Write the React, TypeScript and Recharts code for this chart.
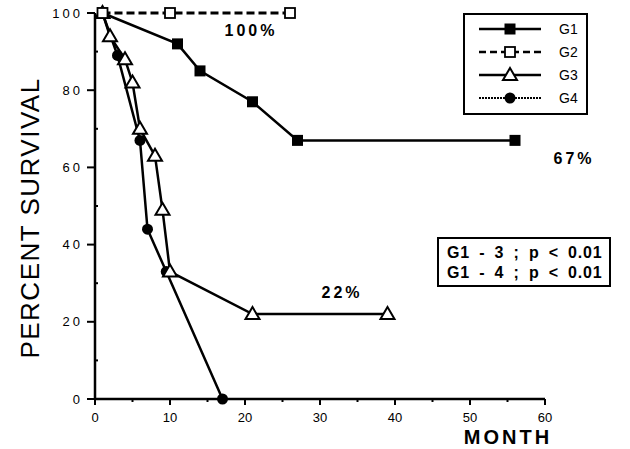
import { LineChart, Line, XAxis, YAxis } from 'recharts';

// survival curves (month, percent)
const g1Months = [1, 11, 14, 21, 27, 56];
const g1Survival = [100, 92, 85, 77, 67, 67];
const g2Months = [1, 10, 26];
const g2Survival = [100, 100, 100];
const g3Months = [1, 2, 4, 5, 6, 8, 9, 10, 21, 39];
const g3Survival = [100, 94, 88, 82, 70, 63, 49, 33, 22, 22];
const g4Months = [1, 3, 6, 7, 9.5, 17];
const g4Survival = [100, 89, 67, 44, 33, 0];

const xTicks = [0, 5, 10, 15, 20, 25, 30, 35, 40, 45, 50, 55, 60];
const yTicks = [0, 10, 20, 30, 40, 50, 60, 70, 80, 90, 100];
const legendLabels = ['G1', 'G2', 'G3', 'G4'];
const statLines = ['G1 - 3 ; p < 0.01', 'G1 - 4 ; p < 0.01'];
const notes = [
  { text: '100%', left: 251, top: 31 },
  { text: '67%', left: 574, top: 159 },
  { text: '22%', left: 342, top: 293 },
];

const toPoints = (xs: number[], ys: number[]) => xs.map((x, i) => ({ x, y: ys[i] }));
const g1 = toPoints(g1Months, g1Survival);
const g2 = toPoints(g2Months, g2Survival);
const g3 = toPoints(g3Months, g3Survival);
const g4 = toPoints(g4Months, g4Survival);

const SANS = 'Arial, "Liberation Sans", Helvetica, sans-serif';

const FilledSquare = ({ cx, cy }: any) => <rect x={cx - 5.5} y={cy - 5.5} width={11} height={11} fill="#000" />;
const OpenSquare = ({ cx, cy }: any) => (
  <rect x={cx - 5} y={cy - 5} width={10} height={10} fill="#fff" stroke="#000" strokeWidth={1.8} />
);
const OpenTriangle = ({ cx, cy }: any) => (
  <polygon points={`${cx},${cy - 7} ${cx + 7},${cy + 5} ${cx - 7},${cy + 5}`} fill="#fff" stroke="#000" strokeWidth={2} />
);
const FilledCircle = ({ cx, cy }: any) => <circle cx={cx} cy={cy} r={5.5} fill="#000" />;

const markers = [FilledSquare, OpenSquare, OpenTriangle, FilledCircle];
const legendDash = [undefined, '7 4', undefined, '2 1'];

const dotOf = (Shape: any) => (p: any) => <Shape key={`d-${p.index}`} cx={p.cx} cy={p.cy} />;

const XTick = ({ x, y, payload }: any) => {
  const major = payload.value % 10 === 0;
  return (
    <g>
      <line x1={x} x2={x} y1={y - (payload.value === 0 ? 4 : 0)} y2={y + (major ? 6 : 3)} stroke="#000" strokeWidth={2} />
      {major && (
        <text x={x} y={y + 23} textAnchor="middle" fontFamily={SANS} fontSize={13} fill="#000">
          {payload.value}
        </text>
      )}
    </g>
  );
};

const YTick = ({ x, y, payload }: any) => {
  const major = payload.value % 20 === 0;
  return (
    <g>
      {major ? (
        <line x1={x - 8} x2={x} y1={y} y2={y} stroke="#000" strokeWidth={2} />
      ) : (
        <line x1={x} x2={x + 3} y1={y} y2={y} stroke="#000" strokeWidth={2} />
      )}
      {major && (
        <text x={x - 12} y={y} dy="0.35em" textAnchor="end" fontFamily={SANS} fontSize={13} letterSpacing={3} fill="#000">
          {payload.value}
        </text>
      )}
    </g>
  );
};

export default function App() {
  return (
    <div style={{ position: 'absolute', left: 0, top: 0, width: 630, height: 449, background: '#fff' }}>
      <LineChart width={630} height={449} margin={{ top: 13, right: 85, bottom: 20, left: 65 }}>
        <XAxis
          dataKey="x"
          type="number"
          domain={[0, 60]}
          ticks={xTicks}
          interval={0}
          height={30}
          tickLine={false}
          tickSize={0}
          tickMargin={0}
          axisLine={{ stroke: '#000', strokeWidth: 2.5 }}
          tick={<XTick />}
        />
        <YAxis
          dataKey="y"
          type="number"
          domain={[0, 100]}
          ticks={yTicks}
          interval={0}
          width={30}
          tickLine={false}
          tickSize={0}
          tickMargin={0}
          axisLine={{ stroke: '#000', strokeWidth: 2.5 }}
          tick={<YTick />}
        />
        <Line data={g4} dataKey="y" stroke="#000" strokeWidth={2.5} dot={dotOf(FilledCircle)} isAnimationActive={false} />
        <Line data={g3} dataKey="y" stroke="#000" strokeWidth={2.5} dot={dotOf(OpenTriangle)} isAnimationActive={false} />
        <Line data={g1} dataKey="y" stroke="#000" strokeWidth={2.5} dot={dotOf(FilledSquare)} isAnimationActive={false} />
        <Line data={g2} dataKey="y" stroke="#000" strokeWidth={3} strokeDasharray="8 4" dot={dotOf(OpenSquare)} isAnimationActive={false} />
      </LineChart>

      <div
        style={{
          position: 'absolute', left: 30, top: 218, transform: 'translate(-50%, -50%) rotate(-90deg)',
          fontFamily: SANS, fontSize: 26, letterSpacing: 1.5, whiteSpace: 'nowrap',
        }}
      >
        PERCENT SURVIVAL
      </div>
      <div
        style={{
          position: 'absolute', left: 508, top: 437, transform: 'translate(-50%, -50%)',
          fontFamily: SANS, fontSize: 20, fontWeight: 'bold', letterSpacing: 3,
        }}
      >
        MONTH
      </div>

      {notes.map(n => (
        <div
          key={n.text}
          style={{
            position: 'absolute', left: n.left, top: n.top, transform: 'translate(-50%, -50%)',
            fontFamily: SANS, fontSize: 16, fontWeight: 'bold', letterSpacing: 3,
          }}
        >
          {n.text}
        </div>
      ))}

      <div style={{ position: 'absolute', left: 463, top: 13, width: 121, height: 98, border: '2px solid #000' }}>
        <svg width={121} height={98}>
          {legendLabels.map((label, i) => {
            const y = 14 + i * 23;
            const Shape = markers[i];
            return (
              <g key={label}>
                <line x1={14} x2={76} y1={y} y2={y} stroke="#000" strokeWidth={i === 3 ? 2 : 2.5} strokeDasharray={legendDash[i]} />
                <Shape cx={45} cy={y} />
                <text x={94} y={y} dy="0.35em" fontFamily='"Liberation Sans Narrow", "Arial Narrow", Arial, sans-serif' fontSize={14}>
                  {label}
                </text>
              </g>
            );
          })}
        </svg>
      </div>

      <div
        style={{
          position: 'absolute', left: 437, top: 237, width: 174, height: 50, border: '2px solid #000',
          fontFamily: SANS, fontSize: 16, fontWeight: 'bold', lineHeight: '20px', letterSpacing: 0.8, wordSpacing: 4,
          padding: '4px 0 0 8px', boxSizing: 'border-box', whiteSpace: 'pre',
        }}
      >
        {statLines.map(t => (
          <div key={t}>{t}</div>
        ))}
      </div>
    </div>
  );
}
